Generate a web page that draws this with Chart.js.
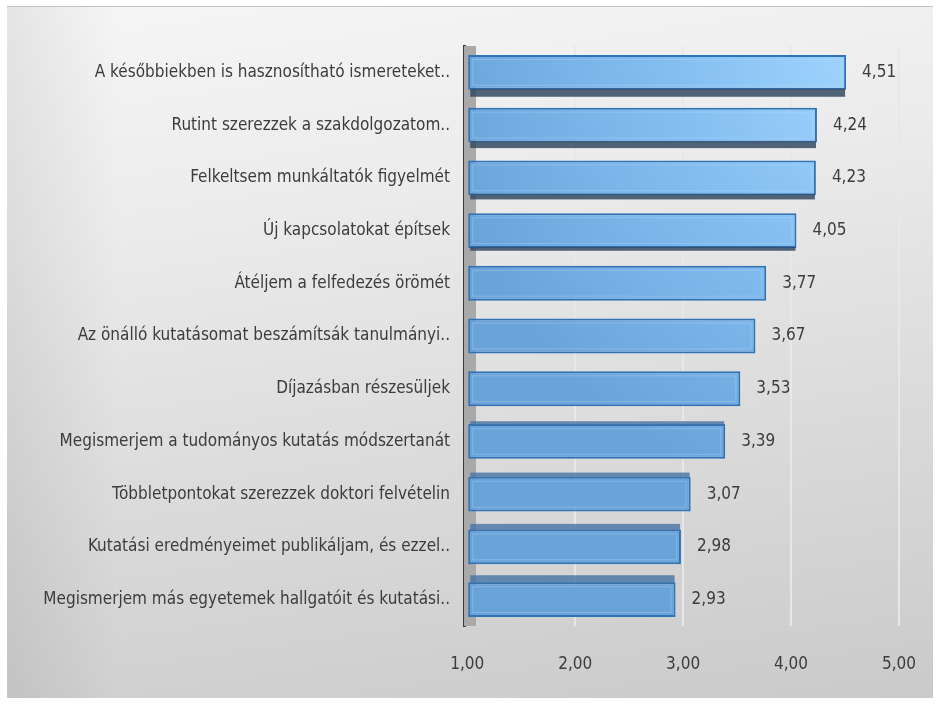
<!DOCTYPE html>
<html>
<head>
<meta charset="utf-8">
<script src="https://cdn.jsdelivr.net/npm/chart.js@4.4.1/dist/chart.umd.min.js"></script>
<style>
    html, body { margin: 0; padding: 0; background: #fff; }
    #panel {
        position: absolute;
        left: 7px; top: 6px;
        width: 926px; height: 692px;
        border-top: 1px solid #c4c4c4;
        box-sizing: border-box;
        background:
            linear-gradient(90deg, rgba(0,0,0,0.07) 0%, rgba(0,0,0,0) 12%),
            linear-gradient(172deg, #f6f6f6 0%, #ebebeb 30%, #dadada 65%, #cacaca 100%);
    }
    #panel canvas { display: block; }
</style>
</head>
<body>
<div id="panel"><canvas id="motivChart" width="926" height="691"></canvas></div>
<script>
// Motivációk átlagos értékelése (1-5 skála)
const categories = [
    'A későbbiekben is hasznosítható ismereteket..',
    'Rutint szerezzek a szakdolgozatom..',
    'Felkeltsem munkáltatók figyelmét',
    'Új kapcsolatokat építsek',
    'Átéljem a felfedezés örömét',
    'Az önálló kutatásomat beszámítsák tanulmányi..',
    'Díjazásban részesüljek',
    'Megismerjem a tudományos kutatás módszertanát',
    'Többletpontokat szerezzek doktori felvételin',
    'Kutatási eredményeimet publikáljam, és ezzel..',
    'Megismerjem más egyetemek hallgatóit és kutatási..'
];
const means = [4.51, 4.24, 4.23, 4.05, 3.77, 3.67, 3.53, 3.39, 3.07, 2.98, 2.93];
const tickValues = [1, 2, 3, 4, 5];

const FONT = "'DejaVu Sans Condensed', 'Liberation Sans Narrow', sans-serif";
const TEXT = '#3c3c3c';
const fmt = v => v.toFixed(2).replace('.', ',');

// light falls from the upper right, bars get darker towards the bottom left
function barFill(context) {
    const chart = context.chart;
    const area = chart.chartArea;
    if (!area) return '#74ade4';
    const g = chart.ctx.createRadialGradient(area.right, area.top, 0, area.right, area.top, 470);
    g.addColorStop(0, '#a6d9ff');
    g.addColorStop(0.45, '#86c0f2');
    g.addColorStop(1, '#6aa3da');
    return g;
}

// grey side wall next to the value axis
const sideWall = {
    id: 'sideWall',
    beforeDatasetsDraw(chart) {
        const { ctx, chartArea } = chart;
        ctx.save();
        ctx.fillStyle = '#a9a9a9';
        ctx.fillRect(chartArea.left, chartArea.top, 12, chartArea.bottom - chartArea.top);
        ctx.restore();
    }
};

// fake depth: upper bars show their underside, lower bars their top face
const barDepth = {
    id: 'barDepth',
    afterDatasetsDraw(chart) {
        const { ctx } = chart;
        const meta = chart.getDatasetMeta(0);
        const mid = (meta.data.length - 1) / 2;
        ctx.save();
        meta.data.forEach((bar, i) => {
            const top = bar.y - bar.height / 2;
            const bottom = bar.y + bar.height / 2;
            const w = bar.x - bar.base;
            // inner bevel
            ctx.strokeStyle = 'rgba(190,225,255,0.3)';
            ctx.lineWidth = 1;
            ctx.strokeRect(bar.base + 4.5, top + 4.5, w - 9, bar.height - 9);
            const d = Math.abs(i - mid) < 2 ? 0 : (i - mid) * 1.4;
            if (d < 0) {
                ctx.fillStyle = 'rgba(52,74,98,0.85)';
                ctx.fillRect(bar.base + 2, bottom - 1, w - 3, 1 - d);
            } else if (d > 0) {
                ctx.fillStyle = 'rgba(70,115,165,0.8)';
                ctx.fillRect(bar.base + 2, top - d, w - 3, d + 1);
            }
        });
        ctx.restore();
    }
};

// value printed right of each bar
const barValues = {
    id: 'barValues',
    afterDatasetsDraw(chart) {
        const { ctx } = chart;
        const meta = chart.getDatasetMeta(0);
        ctx.save();
        ctx.font = '17px ' + FONT;
        ctx.fillStyle = TEXT;
        ctx.textAlign = 'left';
        ctx.textBaseline = 'middle';
        meta.data.forEach((bar, i) => {
            ctx.fillText(fmt(means[i]), bar.x + 16, bar.y);
        });
        ctx.restore();
    }
};

new Chart(document.getElementById('motivChart'), {
    type: 'bar',
    data: {
        labels: categories,
        datasets: [{
            data: means,
            base: 1,
            backgroundColor: barFill,
            borderColor: '#2f72b6',
            borderWidth: 2,
            borderSkipped: false,
            categoryPercentage: 1,
            barPercentage: 0.66
        }]
    },
    options: {
        indexAxis: 'y',
        responsive: false,
        animation: false,
        layout: { padding: { left: 0, right: 34, top: 39, bottom: 22 } },
        plugins: {
            legend: { display: false },
            tooltip: { enabled: false }
        },
        scales: {
            x: {
                min: 0.97,
                max: 5,
                afterBuildTicks: scale => {
                    scale.ticks = tickValues.map(v => ({ value: v }));
                },
                afterFit: scale => {
                    scale.height = 50;
                    scale.paddingLeft = 0;
                    scale.paddingRight = 0;
                },
                border: { display: false },
                grid: {
                    drawTicks: false,
                    lineWidth: 2,
                    color: ctx => ctx.index === 0 ? 'rgba(0,0,0,0)' : 'rgba(232,232,232,0.95)'
                },
                ticks: {
                    padding: 28,
                    color: TEXT,
                    font: { size: 17, family: FONT },
                    callback: v => fmt(v)
                }
            },
            y: {
                afterFit: scale => { scale.width = 457; },
                border: { display: true, color: '#3a3a3a', width: 3 },
                grid: { display: false, drawTicks: false },
                ticks: {
                    padding: 14,
                    color: TEXT,
                    font: { size: 17, family: FONT }
                }
            }
        }
    },
    plugins: [sideWall, barDepth, barValues]
});
</script>
</body>
</html>
